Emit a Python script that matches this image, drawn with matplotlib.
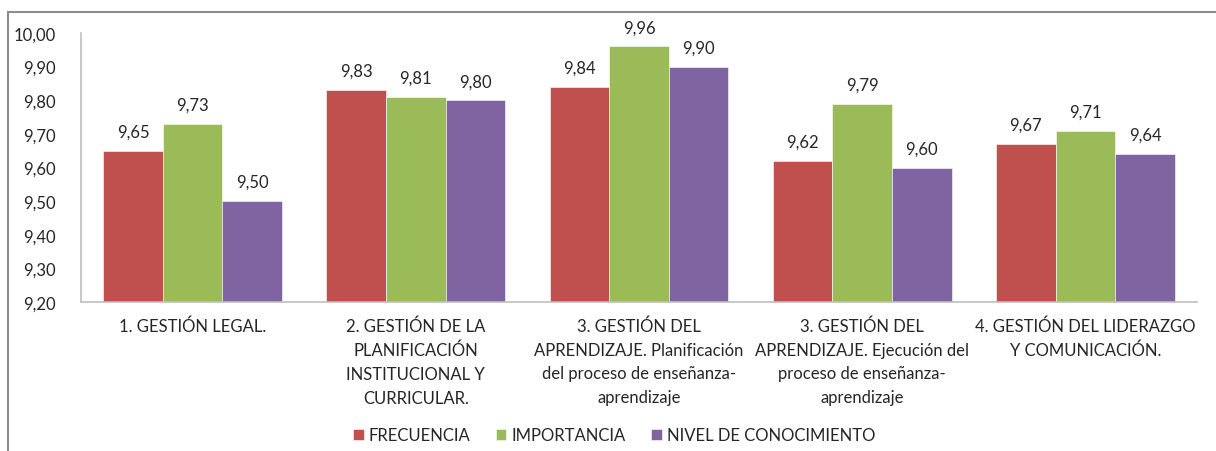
import matplotlib.pyplot as plt
import numpy as np
from matplotlib.patches import Rectangle

# ----- Data -----
categories = [
    "1. GESTIÓN LEGAL.",
    "2. GESTIÓN DE LA\nPLANIFICACIÓN\nINSTITUCIONAL Y\nCURRICULAR.",
    "3. GESTIÓN DEL\nAPRENDIZAJE. Planificación\ndel proceso de enseñanza-\naprendizaje",
    "3. GESTIÓN DEL\nAPRENDIZAJE. Ejecución del\nproceso de enseñanza-\naprendizaje",
    "4. GESTIÓN DEL LIDERAZGO\nY COMUNICACIÓN.",
]
frecuencia = [9.65, 9.83, 9.84, 9.62, 9.67]
importancia = [9.73, 9.81, 9.96, 9.79, 9.71]
nivel = [9.50, 9.80, 9.90, 9.60, 9.64]
series_names = ["FRECUENCIA", "IMPORTANCIA", "NIVEL DE CONOCIMIENTO"]
y_ticks = [9.2, 9.3, 9.4, 9.5, 9.6, 9.7, 9.8, 9.9, 10.0]

colors = ["#C0504D", "#9BBB59", "#8064A2"]

plt.rcParams['font.family'] = ['Lato', 'DejaVu Sans']
fs = 12
txt = "#262626"

fig = plt.figure(figsize=(12.16, 4.52), dpi=100)
ax = fig.add_axes([81 / 1216, 1 - 303 / 452, 1116 / 1216, 269 / 452])

# outer chart frame
fig.patches.append(Rectangle((8 / 1216, -0.1), 1.2, 1 - 13 / 452 + 0.1,
                             transform=fig.transFigure, fill=False,
                             edgecolor="#8c8c8c", linewidth=1.5))

x = np.arange(len(categories))
w = 0.267
for i, (vals, name) in enumerate(zip([frecuencia, importancia, nivel], series_names)):
    pos = x + (i - 1) * w
    ax.bar(pos, np.array(vals) - 9.2, bottom=9.2, width=w, color=colors[i],
           label=name, edgecolor="white", linewidth=0.4)
    for p, v in zip(pos, vals):
        ax.annotate(f"{v:.2f}".replace(".", ","), (p, v), xytext=(0, 8),
                    textcoords="offset points", ha="center", va="bottom",
                    fontsize=fs, color=txt)

ax.set_xlim(-0.5, len(categories) - 0.5)
ax.set_ylim(9.2, 10.0)
ax.set_yticks(y_ticks)
ax.set_yticklabels([f"{t:.2f}".replace(".", ",") for t in y_ticks], fontsize=fs, color=txt)
ax.set_xticks(x)
ax.set_xticklabels(categories, fontsize=fs, color=txt, linespacing=1.6, va="top")
ax.tick_params(axis="both", length=0)
ax.tick_params(axis="y", pad=18)
ax.tick_params(axis="x", pad=11)

for s in ["top", "right"]:
    ax.spines[s].set_visible(False)
for s in ["left", "bottom"]:
    ax.spines[s].set_color("#bfbfbf")
    ax.spines[s].set_linewidth(1.2)

fig.legend(loc="center", bbox_to_anchor=(614 / 1216, 1 - 436 / 452), ncol=3,
           frameon=False, fontsize=fs, handlelength=0.65, handleheight=0.65,
           handletextpad=0.3, columnspacing=1.5, labelcolor=txt)

fig.savefig("out.png", dpi=100)
